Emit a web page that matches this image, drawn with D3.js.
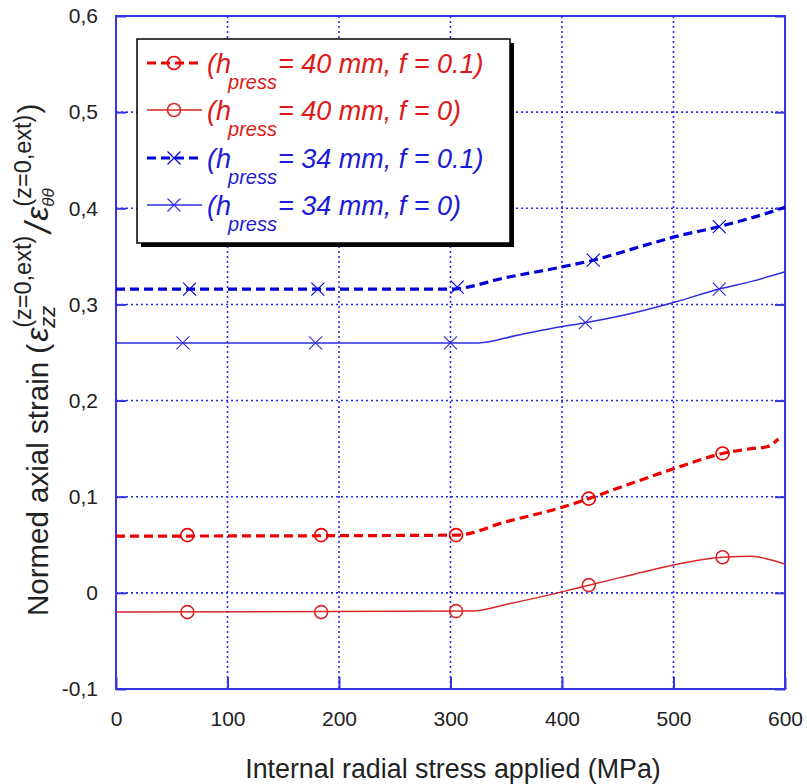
<!DOCTYPE html>
<html><head><meta charset="utf-8">
<script src="https://cdn.jsdelivr.net/npm/d3@7"></script>
<style>body{margin:0;background:#fff}svg{display:block}text{font-family:"Liberation Sans",Arial,sans-serif}</style>
</head><body>
<svg id="c" width="807" height="784"></svg>
<script>
// ---- data ----
const xTicks = [0,100,200,300,400,500,600];
const yTicks = [-0.1,0,0.1,0.2,0.3,0.4,0.5,0.6];
const yTickLabels = ["-0,1","0","0,1","0,2","0,3","0,4","0,5","0,6"];

const blueDashLine = [[0,0.316],[300,0.316],[350,0.328],[400,0.339],[428,0.346],[470,0.360],[500,0.370],[541,0.381],[570,0.390],[600,0.401]];
const blueDashMarks = [[66,0.316],[181,0.316],[306,0.318],[428,0.346],[541,0.381]];
const blueSolidLine = [[0,0.260],[325,0.260],[360,0.268],[400,0.277],[421,0.281],[460,0.290],[500,0.302],[541,0.316],[570,0.324],[600,0.334]];
const blueSolidMarks = [[60,0.260],[179,0.260],[300,0.260],[421,0.281],[541,0.316]];
const redDashLine = [[0,0.059],[305,0.060],[350,0.074],[400,0.089],[424,0.098],[460,0.113],[500,0.129],[544,0.145],[570,0.150],[584,0.152],[594,0.160]];
const redDashMarks = [[64,0.060],[184,0.060],[305,0.060],[424,0.098],[544,0.145]];
const redSolidLine = [[0,-0.020],[320,-0.019],[350,-0.012],[400,0.001],[424,0.008],[460,0.018],[500,0.029],[544,0.037],[570,0.038],[585,0.035],[600,0.030]];
const redSolidMarks = [[64,-0.020],[184,-0.020],[305,-0.019],[424,0.008],[544,0.037]];

const legendLabels = ["= 40 mm, f = 0.1)","= 40 mm, f = 0)","= 34 mm, f = 0.1)","= 34 mm, f = 0)"];

const svg = d3.select("#c");
const x = d3.scaleLinear().domain([0,600]).range([116,785]);
const y = d3.scaleLinear().domain([-0.1,0.6]).range([689,16]);

const gridC = "#2b2bf0", frameC = "#3535e0";
const RED = "#ee0000", RED2 = "#d92626", BLUE = "#0000d8", BLUE2 = "#2e2ee0";

// grid
svg.append("g").selectAll("line").data(xTicks.slice(1,-1)).join("line")
  .attr("x1",d=>x(d)).attr("x2",d=>x(d)).attr("y1",y(0.6)).attr("y2",y(-0.1))
  .attr("stroke",gridC).attr("stroke-width",1.6).attr("stroke-dasharray","2,3");
svg.append("g").selectAll("line").data(yTicks.slice(1,-1)).join("line")
  .attr("y1",d=>y(d)).attr("y2",d=>y(d)).attr("x1",x(0)).attr("x2",x(600))
  .attr("stroke",gridC).attr("stroke-width",1.6).attr("stroke-dasharray","2,3");

// axes with inward ticks
const ax = svg.append("g").attr("transform",`translate(0,${y(-0.1)})`)
  .call(d3.axisBottom(x).tickValues(xTicks).tickSizeInner(-12).tickSizeOuter(0).tickPadding(22));
const ay = svg.append("g").attr("transform",`translate(${x(0)},0)`)
  .call(d3.axisLeft(y).tickValues(yTicks).tickFormat((d,i)=>yTickLabels[i]).tickSizeInner(-10).tickSizeOuter(0).tickPadding(18));
const ayr = svg.append("g").attr("transform",`translate(${x(600)},0)`)
  .call(d3.axisRight(y).tickValues(yTicks).tickFormat("").tickSizeInner(-10).tickSizeOuter(0));
[ax,ay,ayr].forEach(g=>{
  g.selectAll("path").remove();
  g.selectAll("line").attr("stroke",frameC).attr("stroke-width",2);
  g.selectAll("text").attr("fill","#222").style("font-size","21px").style("font-family","'Liberation Sans',Arial,sans-serif");
});
ax.selectAll("text").attr("dy","0.71em");
// frame
svg.append("rect").attr("x",x(0)).attr("y",y(0.6)).attr("width",x(600)-x(0)).attr("height",y(-0.1)-y(0.6))
  .attr("fill","none").attr("stroke",frameC).attr("stroke-width",2);

// series
const line = d3.line().x(d=>x(d[0])).y(d=>y(d[1])).curve(d3.curveMonotoneX);
const series = [
  {line:blueDashLine, marks:blueDashMarks, color:BLUE, dash:true, mk:"x"},
  {line:blueSolidLine, marks:blueSolidMarks, color:BLUE2, dash:false, mk:"x"},
  {line:redDashLine, marks:redDashMarks, color:RED, dash:true, mk:"o"},
  {line:redSolidLine, marks:redSolidMarks, color:RED2, dash:false, mk:"o"},
];
function drawMarker(g, cx, cy, type, color){
  if(type==="o"){
    g.append("circle").attr("cx",cx).attr("cy",cy).attr("r",6.5).attr("fill","none").attr("stroke",color).attr("stroke-width",1.6);
  } else {
    const s=6.5;
    g.append("path").attr("d",`M${cx-s},${cy-s}L${cx+s},${cy+s}M${cx-s},${cy+s}L${cx+s},${cy-s}`)
      .attr("stroke",color).attr("stroke-width",1.1).attr("fill","none");
  }
}
const plot = svg.append("g");
series.forEach(s=>{
  plot.append("path").attr("d",line(s.line)).attr("fill","none").attr("stroke",s.color)
    .attr("stroke-width",s.dash?3.2:1.5).attr("stroke-dasharray",s.dash?"9,5":null);
  s.marks.forEach(m=>drawMarker(plot,x(m[0]),y(m[1]),s.mk,s.color));
});

// legend
const lg = svg.append("g");
lg.append("rect").attr("x",141).attr("y",43).attr("width",373).attr("height",204).attr("fill","#000");
lg.append("rect").attr("x",137).attr("y",39).attr("width",373).attr("height",204).attr("fill","#fff").attr("stroke","#000").attr("stroke-width",1.5);
const legOrder = [series[2],series[3],series[0],series[1]];
const rowY = [63,110,158,205];
const legTextC = ["#e01818","#e01818","#1c1cd8","#1c1cd8"];
legOrder.forEach((s,i)=>{
  const cy = rowY[i];
  lg.append("line").attr("x1",147).attr("x2",202).attr("y1",cy).attr("y2",cy).attr("stroke",s.color)
    .attr("stroke-width",s.dash?3.2:1.5).attr("stroke-dasharray",s.dash?"9,5":null);
  drawMarker(lg,174,cy,s.mk,s.color);
  const t1 = lg.append("text").attr("x",207).attr("y",cy+10).attr("fill",legTextC[i]).style("font-size","27px").style("font-style","italic").text("(h");
  const w1 = t1.node().getComputedTextLength();
  const t2 = lg.append("text").attr("x",207+w1-3).attr("y",cy+26).attr("fill",legTextC[i]).style("font-size","20px").style("font-style","italic").text("press");
  const w2 = t2.node().getComputedTextLength();
  lg.append("text").attr("x",207+w1-3+w2+1).attr("y",cy+10).attr("fill",legTextC[i]).style("font-size","27px").style("font-style","italic").text(legendLabels[i]);
});

// x title
svg.append("text").attr("x",453).attr("y",778).attr("text-anchor","middle").attr("fill","#222").style("font-size","26.8px")
  .text("Internal radial stress applied (MPa)");

// y title (rotated, built piece by piece)
const yt = svg.append("g").attr("transform","translate(48,616) rotate(-90)").attr("fill","#222");
let cur = 0;
function piece(txt, size, dy, italic, advance){
  const t = yt.append("text").attr("x",cur).attr("y",dy).style("font-size",size+"px").text(txt);
  if(italic) t.style("font-style","italic");
  const w = t.node().getComputedTextLength();
  if(advance) cur += w;
  return w;
}
piece("Normed axial strain (",29.5,0,false,true);
cur += 2;
piece("ε",32,0,true,true);
let sx = cur;
let w1 = piece("zz",22,7,true,false);
let w2 = piece("(z=0,ext)",23.5,-17,false,false);
cur = sx + Math.max(w1,w2) + 3;
piece("/",36,3,true,true);
cur += 2;
piece("ε",32,0,true,true);
sx = cur;
w1 = piece("θθ",17,6,true,false);
w2 = piece("(z=0,ext)",23.5,-17,false,false);
cur = sx + Math.max(w1,w2) + 1;
piece(")",30,-9,false,true);
</script>
</body></html>
